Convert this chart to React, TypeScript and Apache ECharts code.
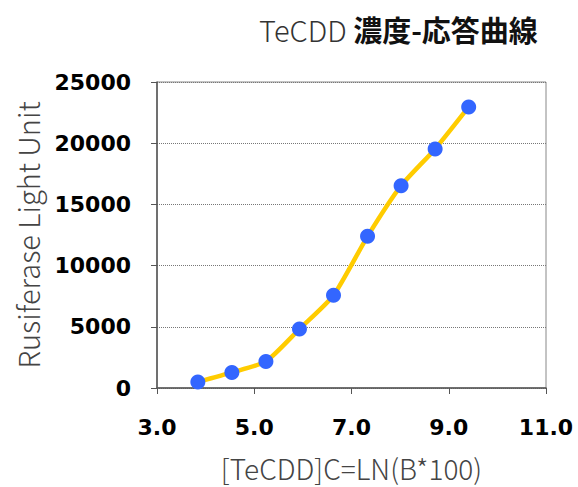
import React, { useEffect, useRef } from "react";
import * as echarts from "echarts";

const xValues = [3.84, 4.54, 5.24, 5.93, 6.63, 7.33, 8.02, 8.72, 9.41];
const yValues = [490, 1270, 2170, 4820, 7570, 12390, 16530, 19530, 22960];
const titleParts = ["TeCDD", "濃度-応答曲線"];
const xAxisName = "[TeCDD]C=LN(B*100)";
const yAxisName = "Rusiferase Light Unit";

export default function App() {
  const ref = useRef<HTMLDivElement>(null);
  useEffect(() => {
    if (!ref.current) return;
    const chart = echarts.init(ref.current, null, { renderer: "svg" });
    const labelFont = "'Noto Sans CJK JP', 'Noto Sans', sans-serif";
    const tickFont = "'DejaVu Sans', Verdana, sans-serif";
    chart.setOption({
      animation: false,
      backgroundColor: "#ffffff",
      title: {
        text: `{a|${titleParts[0]} }{b|${titleParts[1]}}`,
        left: 254,
        top: 9,
        textStyle: {
          rich: {
            a: { fontFamily: labelFont, fontSize: 29, fontWeight: 300, color: "#333" },
            b: { fontFamily: labelFont, fontSize: 29, fontWeight: "bold", color: "#111" },
          },
        },
      },
      grid: {
        left: 157,
        right: 32,
        top: 82,
        bottom: 99,
        show: true,
        borderColor: "#888",
        borderWidth: 1,
        backgroundColor: "transparent",
        containLabel: false,
        outerBoundsMode: "none",
      },
      xAxis: {
        type: "value",
        min: 3,
        max: 11,
        interval: 2,
        name: xAxisName,
        nameLocation: "middle",
        nameGap: 66,
        nameTextStyle: { fontFamily: labelFont, fontSize: 28, fontWeight: 300, color: "#444" },
        axisLine: { show: true, onZero: false, lineStyle: { color: "#555", width: 1.5 } },
        axisTick: { show: true, length: 6, lineStyle: { color: "#555" } },
        splitLine: { show: false },
        axisLabel: {
          formatter: (v: number) => v.toFixed(1),
          fontFamily: tickFont,
          fontSize: 22,
          fontWeight: "bold",
          color: "#000",
          margin: 28,
        },
      },
      yAxis: {
        type: "value",
        min: 0,
        max: 25000,
        interval: 5000,
        name: yAxisName,
        nameLocation: "middle",
        nameGap: 116,
        nameTextStyle: { fontFamily: labelFont, fontSize: 29, fontWeight: 300, color: "#444" },
        axisLine: { show: true, onZero: false, lineStyle: { color: "#555", width: 1.5 } },
        axisTick: { show: true, length: 6, lineStyle: { color: "#555" } },
        splitLine: { show: true, lineStyle: { color: "#777", type: "dotted", width: 1 } },
        axisLabel: {
          formatter: (v: number) => String(v),
          fontFamily: tickFont,
          fontSize: 22,
          fontWeight: "bold",
          color: "#000",
          margin: 26,
        },
      },
      series: [
        {
          type: "line",
          data: xValues.map((x, i) => [x, yValues[i]]),
          smooth: 0.2,
          lineStyle: { color: "#FFCC00", width: 4.5 },
          symbol: "circle",
          symbolSize: 15,
          itemStyle: { color: "#3366FF", borderWidth: 0 },
        },
      ],
    });
    return () => chart.dispose();
  }, []);
  return <div ref={ref} style={{ width: 578, height: 487, position: "absolute", left: 0, top: 0 }} />;
}
